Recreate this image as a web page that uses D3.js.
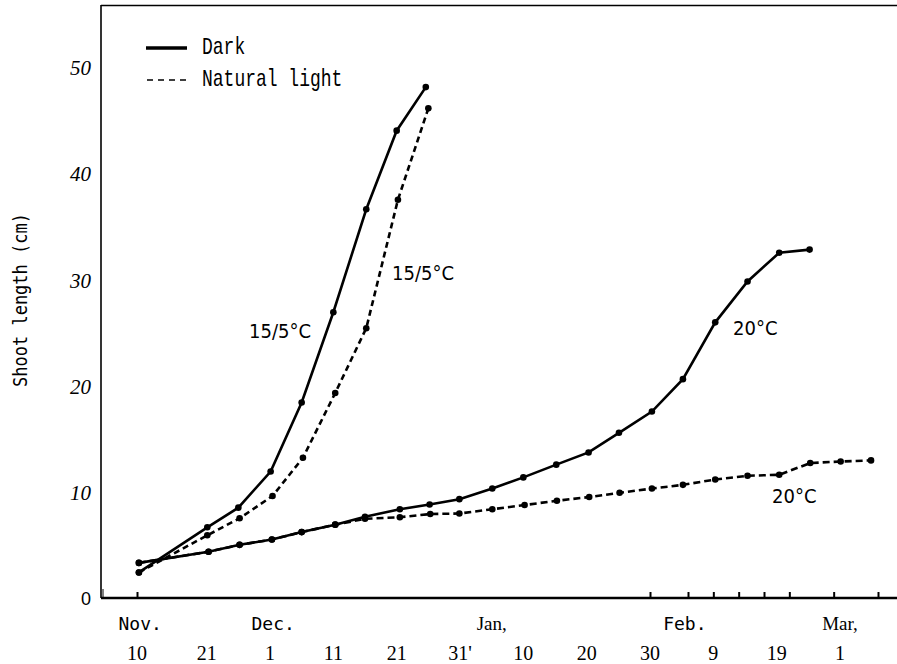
<!DOCTYPE html>
<html>
<head>
<meta charset="utf-8">
<script src="https://cdn.jsdelivr.net/npm/d3@7"></script>
<style>
  body { margin: 0; background: #fff; }
</style>
</head>
<body>
<svg id="chart"></svg>
<script>
// x values are days counted from Nov. 10
const dark15Days = [0.3, 11.1, 16.0, 21.1, 26.0, 31.0, 36.2, 41.0, 45.6];
const dark15Len  = [2.5, 6.75, 8.6, 12.0, 18.5, 27.0, 36.7, 44.1, 48.2];

const nat15Days = [0.3, 11.1, 16.2, 21.4, 26.2, 31.3, 36.2, 41.2, 46.0];
const nat15Len  = [2.5, 6.0, 7.6, 9.7, 13.3, 19.4, 25.5, 37.6, 46.2];

const dark20Days = [0.3, 11.3, 16.2, 21.3, 26.0, 31.3, 36.0, 41.5, 46.2, 50.9, 56.1,
                    61.0, 66.2, 71.3, 76.1, 81.3, 86.2, 91.3, 96.4, 101.4, 106.2];
const dark20Len  = [3.4, 4.45, 5.1, 5.6, 6.3, 7.0, 7.75, 8.45, 8.9, 9.4, 10.4,
                    11.45, 12.65, 13.8, 15.65, 17.65, 20.7, 26.05, 29.9, 32.6, 32.9];

const nat20Days = [0.3, 11.3, 16.2, 21.3, 26.0, 31.3, 36.0, 41.5, 46.3, 50.9, 56.1, 61.2,
                   66.3, 71.4, 76.2, 81.3, 86.2, 91.3, 96.4, 101.4, 106.3, 111.1, 115.9];
const nat20Len  = [3.4, 4.45, 5.1, 5.6, 6.3, 7.0, 7.55, 7.7, 8.0, 8.05, 8.45, 8.85,
                   9.25, 9.6, 10.0, 10.4, 10.75, 11.25, 11.6, 11.7, 12.8, 12.95, 13.05];

const yTicks = [0, 10, 20, 30, 40, 50];
const dayTicks = [0, 11, 21, 31, 41, 51, 61, 71, 81, 91, 101, 111];
const dayLabels = ["10", "21", "1", "11", "21", "31'", "10", "20", "30", "9", "19", "1"];
const monthTicks = [0.5, 21.5, 56, 86.5, 111];
const monthLabels = ["Nov.", "Dec.", "Jan,", "Feb.", "Mar,"];
const markTicks = [0, 81, 87, 91, 95, 99, 103, 110, 117];

const width = 897, height = 664;
const plotLeft = 101, plotTop = 5, plotBottom = 598;

const svg = d3.select("#chart").attr("width", width).attr("height", height);

const x = d3.scaleLinear().domain([0, 111]).range([137, 840]);
const y = d3.scaleLinear().domain([0, 50]).range([599, 68]);

const zip = (a, b) => a.map((d, i) => [d, b[i]]);
const series = [
  {pts: zip(nat20Days, nat20Len), dash: "7,4"},
  {pts: zip(nat15Days, nat15Len), dash: "6,4"},
  {pts: zip(dark20Days, dark20Len), dash: null},
  {pts: zip(dark15Days, dark15Len), dash: null}
];

// frame
svg.append("line").attr("x1", plotLeft).attr("x2", plotLeft).attr("y1", plotTop).attr("y2", plotBottom)
  .attr("stroke", "#000").attr("stroke-width", 1.6);
svg.append("line").attr("x1", plotLeft).attr("x2", width).attr("y1", plotTop + 0.5).attr("y2", plotTop + 0.5)
  .attr("stroke", "#000").attr("stroke-width", 1.6);
svg.append("line").attr("x1", plotLeft).attr("x2", width).attr("y1", plotBottom).attr("y2", plotBottom)
  .attr("stroke", "#000").attr("stroke-width", 2.6);
svg.append("line").attr("x1", plotLeft + 2).attr("x2", plotLeft + 2).attr("y1", plotBottom - 9).attr("y2", plotBottom)
  .attr("stroke", "#000").attr("stroke-width", 1);

// small inward marks on the x axis
const marks = svg.append("g").attr("transform", `translate(0,${plotBottom})`)
  .call(d3.axisTop(x).tickValues(markTicks).tickSize(6).tickFormat(""));
marks.select(".domain").remove();
marks.selectAll("line").attr("stroke-width", 2);

// y axis labels
const yAx = svg.append("g").attr("transform", `translate(${plotLeft},0)`)
  .call(d3.axisLeft(y).tickValues(yTicks).tickSize(0).tickPadding(10));
yAx.select(".domain").remove();
yAx.selectAll("text")
  .attr("font-family", d => d === 0 ? "Liberation Sans" : "Liberation Serif")
  .attr("font-style", d => d === 0 ? "normal" : "italic")
  .attr("font-size", d => d === 0 ? 18 : 21).attr("fill", "#000");

svg.append("text")
  .attr("transform", "translate(27,300) rotate(-90) scale(1,1.15)")
  .attr("text-anchor", "middle")
  .attr("font-family", "DejaVu Sans Mono").attr("font-size", 17)
  .text("Shoot length (cm)");

// date labels
svg.append("g").selectAll("text").data(monthTicks).join("text")
  .attr("x", d => x(d)).attr("y", 630)
  .attr("text-anchor", "middle")
  .attr("font-family", (d, i) => monthLabels[i].endsWith(",") ? "Liberation Serif" : "DejaVu Sans Mono")
  .attr("font-size", (d, i) => monthLabels[i].endsWith(",") ? 19 : 18)
  .text((d, i) => monthLabels[i]);

svg.append("g").selectAll("text").data(dayTicks).join("text")
  .attr("x", d => x(d)).attr("y", 660)
  .attr("text-anchor", "middle")
  .attr("font-family", "Liberation Serif").attr("font-size", 20)
  .text((d, i) => dayLabels[i]);

// lines and points
const line = d3.line().x(d => x(d[0])).y(d => y(d[1]));
series.forEach(s => {
  svg.append("path").datum(s.pts)
    .attr("d", line).attr("fill", "none")
    .attr("stroke", "#000").attr("stroke-width", 2.6)
    .attr("stroke-dasharray", s.dash);
  svg.append("g").selectAll("circle").data(s.pts).join("circle")
    .attr("cx", d => x(d[0])).attr("cy", d => y(d[1])).attr("r", 3.3)
    .attr("fill", "#000");
});

// curve labels
const lab = svg.append("g")
  .attr("font-family", "DejaVu Sans Condensed, DejaVu Sans")
  .attr("font-stretch", "condensed")
  .attr("font-size", 20);
lab.append("text").attr("x", 249).attr("y", 338).text("15/5°C");
lab.append("text").attr("x", 392).attr("y", 280).text("15/5°C");
lab.append("text").attr("x", 733).attr("y", 335).text("20°C");
lab.append("text").attr("x", 772).attr("y", 503).text("20°C");

// legend
svg.append("line").attr("x1", 146).attr("x2", 187).attr("y1", 48).attr("y2", 48)
  .attr("stroke", "#000").attr("stroke-width", 3.5);
svg.append("line").attr("x1", 147).attr("x2", 187).attr("y1", 80).attr("y2", 80)
  .attr("stroke", "#000").attr("stroke-width", 1.4).attr("stroke-dasharray", "6,5");
const leg = svg.append("g").attr("font-family", "Liberation Mono").attr("font-size", 18);
leg.append("text").attr("transform", "translate(202,54) scale(1,1.3)").text("Dark");
leg.append("text").attr("transform", "translate(202,86) scale(1,1.3)").text("Natural light");
</script>
</body>
</html>
